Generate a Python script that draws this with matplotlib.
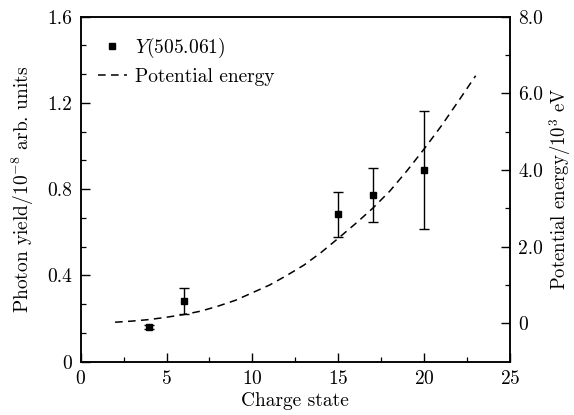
import matplotlib
matplotlib.use("Agg")
import matplotlib.pyplot as plt
from matplotlib.lines import Line2D
from matplotlib.ticker import MultipleLocator, FixedLocator

plt.rcParams['font.family'] = 'serif'
plt.rcParams['font.serif'] = ['cmr10']
plt.rcParams['mathtext.fontset'] = 'cm'
plt.rcParams['axes.unicode_minus'] = False
plt.rcParams['axes.formatter.use_mathtext'] = True

FS = 14

# measured photon yield
charge = [4, 6, 15, 17, 20]
yield_vals = [0.162, 0.282, 0.684, 0.772, 0.889]
yield_err = [0.008, 0.062, 0.105, 0.125, 0.272]

# potential energy curve (10^3 eV)
pe_charge = [2, 3, 4, 5, 6, 7, 8, 9, 10, 11, 12, 13, 14, 15, 16, 17, 18, 19, 20, 21, 22, 23]
pe_vals = [0.03, 0.06, 0.10, 0.16, 0.23, 0.32, 0.45, 0.60, 0.80, 1.00, 1.25, 1.52,
           1.85, 2.22, 2.60, 3.00, 3.45, 3.98, 4.55, 5.15, 5.80, 6.46]

fig = plt.figure(figsize=(5.74, 4.15), dpi=100)
ax = fig.add_axes([0.1406, 0.1284, 0.7479, 0.8314])
ax2 = ax.twinx()

ax.errorbar(charge, yield_vals, yerr=yield_err, fmt='s', color='black', ms=4.5,
            capsize=3.6, elinewidth=1.0, capthick=1.0)
line, = ax2.plot(pe_charge, pe_vals, color='black', lw=1.1, linestyle=(0, (5, 3.5)))

ax.set_xlim(0, 25)
ax.set_ylim(0, 1.6)
ax2.set_ylim(-1, 8)

ax.xaxis.set_major_locator(MultipleLocator(5))
ax.xaxis.set_minor_locator(MultipleLocator(2.5))
ax.set_yticks([0, 0.4, 0.8, 1.2, 1.6])
ax.set_yticklabels(['0', '0.4', '0.8', '1.2', '1.6'])
ax.yaxis.set_minor_locator(MultipleLocator(0.4 / 3))

ax2.set_yticks([0, 2, 4, 6, 8])
ax2.set_yticklabels(['0', '2.0', '4.0', '6.0', '8.0'])
ax2.yaxis.set_minor_locator(FixedLocator([1, 3, 5, 7]))

for a in (ax, ax2):
    a.tick_params(which='major', direction='in', length=6.5, width=1.0, labelsize=FS, pad=6)
    a.tick_params(which='minor', direction='in', length=3.6, width=0.9)
ax.tick_params(axis='x', which='both', top=False)
ax.tick_params(axis='y', which='both', right=False)
ax2.tick_params(axis='y', which='both', left=False)
for a in (ax, ax2):
    for s in a.spines.values():
        s.set_linewidth(1.1)

ax.set_xlabel('Charge state', fontsize=FS, labelpad=3)
ax.set_ylabel('Photon yield/10$^{-8}$ arb. units', fontsize=FS, labelpad=8)
ax2.set_ylabel('Potential energy/10$^3$ eV', fontsize=13.5, labelpad=3)

sq = Line2D([], [], marker='s', ls='none', color='black', ms=4.5)
ax.legend([sq, line], ['$Y$(505.061)', 'Potential energy'], loc='upper left',
          frameon=False, fontsize=FS, handlelength=1.5, handletextpad=0.4,
          borderpad=0, borderaxespad=0, labelspacing=0.4,
          bbox_to_anchor=(0.040, 0.945))

fig.savefig('out.png', dpi=100)
